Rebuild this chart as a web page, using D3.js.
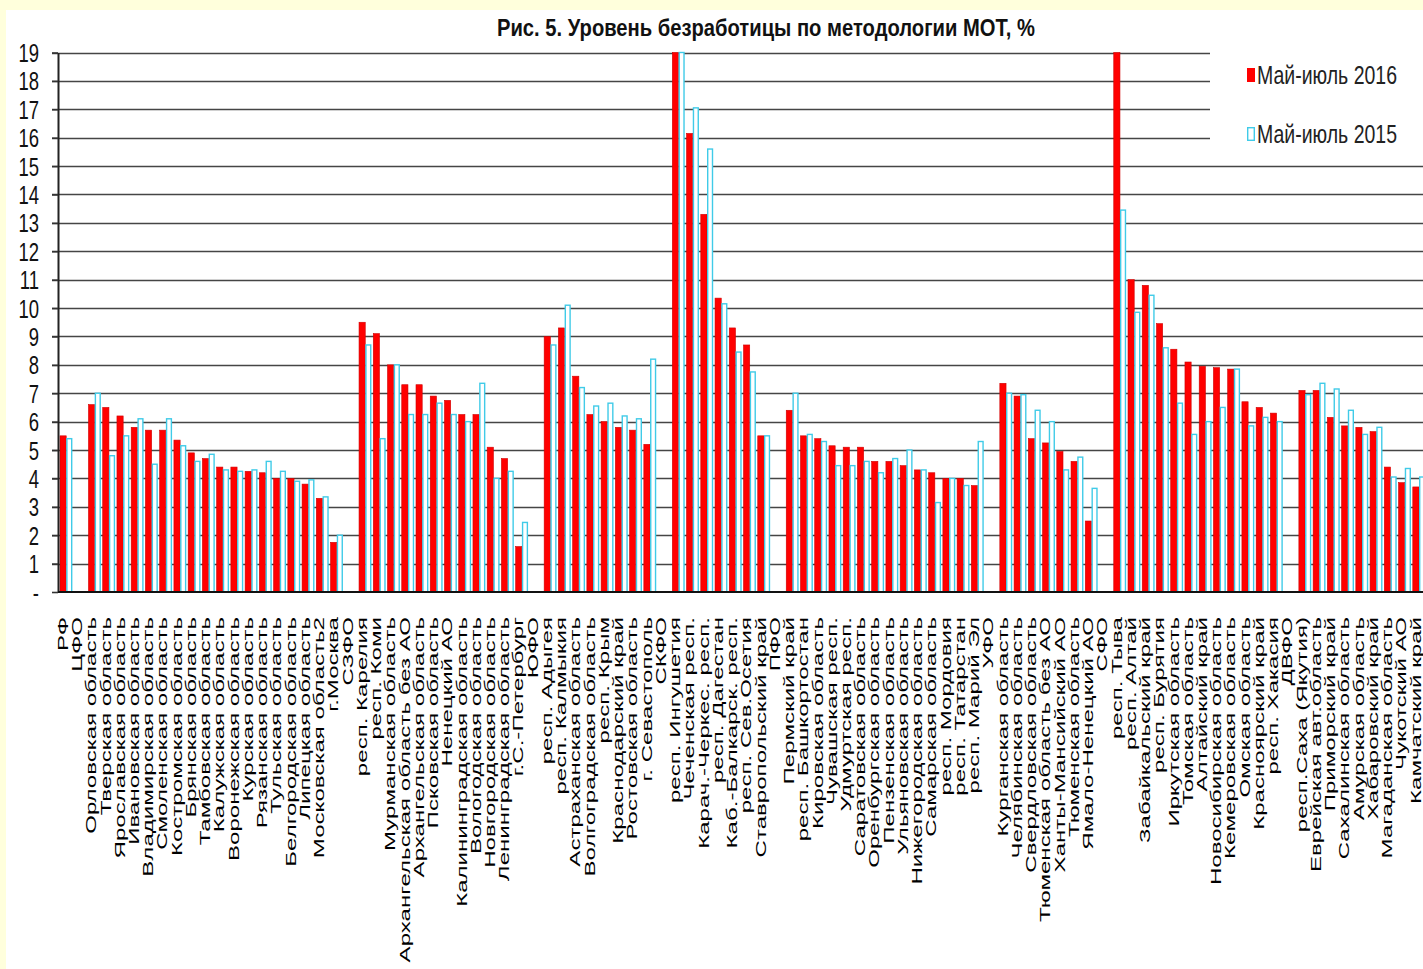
<!DOCTYPE html>
<html><head><meta charset="utf-8">
<script src="https://cdn.jsdelivr.net/npm/d3@7"></script>
<style>body{margin:0;background:#fff;overflow:hidden}</style>
</head><body>
<svg id="c" width="1423" height="969"></svg>
<script>
const categories = [
"РФ","ЦФО","Орловская область","Тверская область","Ярославская область","Ивановская область","Владимирская область","Смоленская область","Костромская область","Брянская область","Тамбовская область","Калужская область","Воронежская область","Курская область","Рязанская область","Тульская область","Белгородская область","Липецкая область","Московская область2","г.Москва",
"СЗФО","респ. Карелия","респ. Коми","Мурманская область","Архангельская область без АО","Архангельская область","Псковская область","Ненецкий АО","Калининградская область","Вологодская область","Новгородская область","Ленинградская область","г.С.-Петербург",
"ЮФО","респ. Адыгея","респ. Калмыкия","Астраханская область","Волгоградская область","респ. Крым","Краснодарский край","Ростовская область","г. Севастополь",
"СКФО","респ. Ингушетия","Чеченская респ.","Карач.-Черкес. респ.","респ. Дагестан","Каб.-Балкарск. респ.","респ. Сев.Осетия","Ставропольский край",
"ПФО","Пермский край","респ. Башкортостан","Кировская область","Чувашская респ.","Удмуртская респ.","Саратовская область","Оренбургская область","Пензенская область","Ульяновская область","Нижегородская область","Самарская область","респ. Мордовия","респ. Татарстан","респ. Марий Эл",
"УФО","Курганская область","Челябинская область","Свердловская область","Тюменская область без АО","Ханты-Мансийский АО","Тюменская область","Ямало-Ненецкий АО",
"СФО","респ. Тыва","респ. Алтай","Забайкальский край","респ. Бурятия","Иркутская область","Томская область","Алтайский край","Новосибирская область","Кемеровская область","Омская область","Красноярский край","респ. Хакасия",
"ДВФО","респ.Саха (Якутия)","Еврейская авт.область","Приморский край","Сахалинская область","Амурская область","Хабаровский край","Магаданская область","Чукотский АО","Камчатский край"
];
const v2016 = [
5.5,null,6.6,6.5,6.2,5.8,5.7,5.7,5.35,4.9,4.7,4.4,4.4,4.25,4.2,4.0,4.0,3.8,3.3,1.75,
null,9.5,9.1,8.0,7.3,7.3,6.9,6.75,6.25,6.25,5.1,4.7,1.6,
null,9.0,9.3,7.6,6.25,6.0,5.8,5.7,5.2,
null,30.4,16.15,13.3,10.35,9.3,8.7,5.5,
null,6.4,5.5,5.4,5.15,5.1,5.1,4.6,4.6,4.45,4.3,4.2,4.0,4.0,3.75,
null,7.35,6.9,5.4,5.25,4.95,4.6,2.5,
null,19.5,11.0,10.8,9.45,8.55,8.1,7.95,7.9,7.85,6.7,6.5,6.3,
null,7.1,7.1,6.15,5.85,5.8,5.65,4.4,3.85,3.7
];
const v2015 = [
5.4,null,7.0,4.8,5.5,6.1,4.5,6.1,5.15,4.6,4.85,4.3,4.25,4.3,4.6,4.25,3.9,3.95,3.35,2.0,
null,8.7,5.4,8.0,6.25,6.25,6.65,6.25,6.0,7.35,4.0,4.25,2.45,
null,8.7,10.1,7.2,6.55,6.65,6.2,6.1,8.2,
null,28.0,17.05,15.6,10.15,8.45,7.75,5.5,
null,7.0,5.55,5.3,4.45,4.45,4.6,4.2,4.7,5.0,4.3,3.15,4.0,3.75,5.3,
null,7.0,6.95,6.4,6.0,4.3,4.75,3.65,
null,13.45,9.85,10.45,8.6,6.65,5.55,6.0,6.5,7.85,5.85,6.15,6.0,
null,6.95,7.35,7.15,6.4,5.55,5.8,4.05,4.35,4.05
];
const seriesNames = ["Май-июль 2016","Май-июль 2015"];
const yTicks = d3.range(0, 20);
const title = "Рис. 5. Уровень безработицы по методологии МОТ, %";

const svg = d3.select("#c");
const W = 1423, H = 969;
const axisX = 58, y0 = 592, yTop = 52.5;

// background: pale yellow frame
svg.append("rect").attr("width", W).attr("height", H).attr("fill", "#ffffdc");
svg.append("rect").attr("x", 6).attr("y", 10).attr("width", W).attr("height", H).attr("fill", "#fff");

const step = 14.24;
const x = d3.scaleBand().domain(d3.range(categories.length))
  .range([59, 59 + step * categories.length]).padding(0);
const xs = d3.scaleBand().domain([0, 1]).range([1, 13.4]).padding(0);
const y = d3.scaleLinear().domain([0, 19]).range([y0, yTop]).clamp(true);

// gridlines
svg.append("g").selectAll("line").data(yTicks.filter(d => d > 0)).join("line")
  .attr("x1", axisX - 6).attr("x2", W)
  .attr("y1", d => Math.round(y(d)) + 0.5).attr("y2", d => Math.round(y(d)) + 0.5)
  .attr("stroke", "#454545").attr("stroke-width", 1.6);

// legend background (covers top gridlines at right)
svg.append("rect").attr("x", 1210).attr("y", 40).attr("width", 230).attr("height", 110).attr("fill", "#fff");

// bars
const gBars = svg.append("g");
categories.forEach((c, i) => {
  const vals = [v2016[i], v2015[i]];
  vals.forEach((v, s) => {
    if (v == null) return;
    const bx = x(i) + xs(s);
    const bw = xs.bandwidth();
    if (s === 0) {
      gBars.append("rect").attr("x", bx).attr("width", bw)
        .attr("y", y(v)).attr("height", y0 - y(v))
        .attr("fill", "#ff0000").attr("stroke", "#d00000").attr("stroke-width", 0.6);
    } else {
      gBars.append("rect").attr("x", bx + 0.7).attr("width", bw - 1.4)
        .attr("y", y(v)).attr("height", y0 - y(v))
        .attr("fill", "#fff").attr("stroke", "#40cbe8").attr("stroke-width", 1.4);
    }
  });
});

// y axis
const yAxis = d3.axisLeft(y).tickValues(yTicks).tickSize(6).tickSizeOuter(0)
  .tickFormat(d => d === 0 ? "-" : String(d));
const gy = svg.append("g").attr("transform", `translate(${axisX},0)`).call(yAxis);
gy.select(".domain").attr("stroke", "#222").attr("stroke-width", 2);
gy.selectAll(".tick line").attr("stroke", "#333").attr("stroke-width", 1.6);
gy.selectAll(".tick text")
  .attr("x", 0).attr("dy", "0.36em")
  .attr("transform", "translate(-19,0) scale(0.74,1)")
  .attr("font-family", "'Liberation Sans', Arial, sans-serif")
  .attr("font-size", 25).attr("fill", "#111").attr("text-anchor", "end");

// baseline
svg.append("line").attr("x1", axisX).attr("x2", W).attr("y1", y0).attr("y2", y0)
  .attr("stroke", "#111").attr("stroke-width", 2);

// x labels
svg.append("g").selectAll("text").data(categories).join("text")
  .attr("transform", (d, i) => `translate(${x(i) + x.bandwidth() / 2},617) rotate(-90) scale(1.72,1)`)
  .attr("text-anchor", "end").attr("dy", "0.12em")
  .attr("font-family", "'Liberation Sans', Arial, sans-serif")
  .attr("font-size", 14).attr("fill", "#000")
  .text(d => d);

// title
svg.append("text").attr("x", 497).attr("y", 36)
  .attr("textLength", 538).attr("lengthAdjust", "spacingAndGlyphs")
  .attr("font-family", "'Liberation Sans', Arial, sans-serif")
  .attr("font-weight", "bold").attr("font-size", 24).attr("fill", "#111")
  .text(title);

// legend
const leg = svg.append("g");
const legY = [75, 134];
leg.append("rect").attr("x", 1247).attr("y", legY[0] - 7).attr("width", 8).attr("height", 14)
  .attr("fill", "#ff0000");
leg.append("rect").attr("x", 1247.7).attr("y", legY[1] - 6.3).attr("width", 6.6).attr("height", 12.6)
  .attr("fill", "#fff").attr("stroke", "#40cbe8").attr("stroke-width", 1.4);
seriesNames.forEach((n, k) => {
  const t = leg.append("text").attr("x", 0).attr("y", 0).attr("dy", "0.36em")
    .attr("font-family", "'Liberation Sans', Arial, sans-serif")
    .attr("font-size", 25).attr("fill", "#222").text(n);
  const len = t.node().getComputedTextLength() || 175;
  t.attr("transform", `translate(1257,${legY[k]}) scale(${140 / len},1)`);
});
</script>
</body></html>
